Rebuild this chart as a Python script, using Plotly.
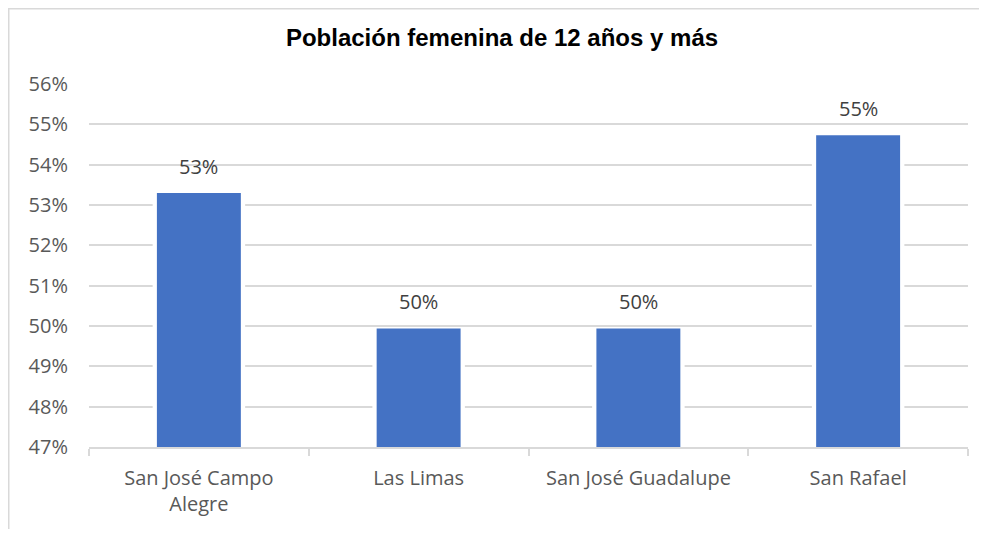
import plotly.graph_objects as go

categories = ["San José Campo<br>Alegre", "Las Limas", "San José Guadalupe", "San Rafael"]
values = [0.533, 0.4994, 0.4994, 0.5473]
y_tick_vals = [0.47, 0.48, 0.49, 0.50, 0.51, 0.52, 0.53, 0.54, 0.55, 0.56]
title_text = "Población femenina de 12 años y más"

# page has an 8px body margin; figure sized to fit inside the window
W, H = 971, 521
L, R, T, B = 81, 11, 76, 82
pw, ph = W - L - R, H - T - B

fig = go.Figure()
# white halo behind bars (breaks gridlines like Excel)
fig.add_trace(go.Bar(x=categories, y=values, width=0.421, base=0,
                     marker=dict(color="white", line=dict(width=0)),
                     hoverinfo="skip", showlegend=False))
fig.add_trace(go.Bar(x=categories, y=values, width=0.382, base=0,
                     marker=dict(color="#4472C4", line=dict(width=0)),
                     showlegend=False))

for c, v in zip(categories, values):
    fig.add_annotation(x=c, y=v, text=f"{v*100:.0f}%", showarrow=False,
                       yanchor="bottom", yshift=11,
                       font=dict(family="Open Sans", size=20, color="#404040"))

def px_x(x):
    return (x - L) / pw
def px_y(y):
    return (H - B - y) / ph

# chart border (left and top edges visible)
fig.add_shape(type="line", xref="paper", yref="paper",
              x0=px_x(0.75), x1=px_x(0.75), y0=px_y(0), y1=px_y(H + 5),
              line=dict(color="#D9D9D9", width=1.5))
fig.add_shape(type="line", xref="paper", yref="paper",
              x0=px_x(0), x1=px_x(W + 5), y0=px_y(0.75), y1=px_y(0.75),
              line=dict(color="#D9D9D9", width=1.5))

fig.update_layout(
    width=W, height=H,
    margin=dict(l=L, r=R, t=T, b=B),
    paper_bgcolor="white", plot_bgcolor="white",
    barmode="overlay",
    title=dict(text=f"<b>{title_text}</b>", x=494 / W, xanchor="center",
               y=1 - 30 / H, yanchor="middle",
               font=dict(family="Liberation Sans", size=24, color="black")),
    font=dict(family="Open Sans", size=20, color="#595959"),
)
fig.update_yaxes(range=[0.47, 0.56], tickvals=y_tick_vals, tickformat=".0%",
                 showgrid=True, gridcolor="#D9D9D9", gridwidth=1.5,
                 zeroline=False, showline=False, ticks="",
                 ticklabelstandoff=20,
                 tickfont=dict(family="Open Sans", size=20, color="#595959"))
fig.update_xaxes(showline=True, linecolor="#D9D9D9", linewidth=1.5,
                 ticks="outside", ticklen=7, tickcolor="#D9D9D9", tickwidth=1.5,
                 tickson="boundaries", showgrid=False,
                 ticklabelstandoff=12,
                 tickfont=dict(family="Open Sans", size=20, color="#595959"))

fig.write_html("out.html")
